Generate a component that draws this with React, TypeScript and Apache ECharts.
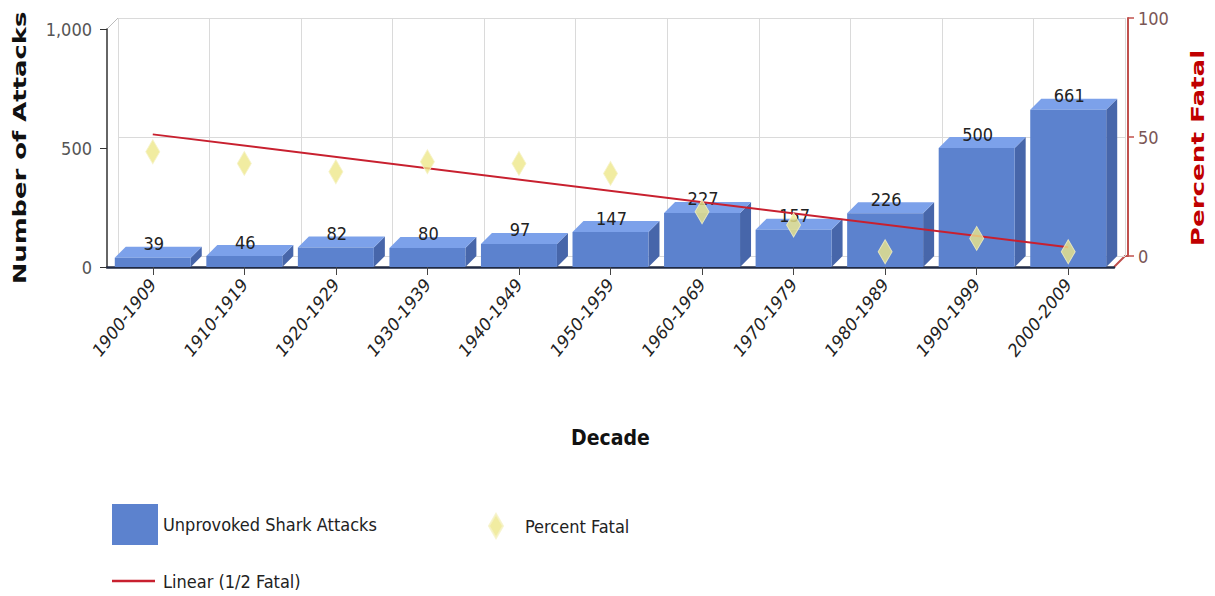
import React, { useEffect, useRef } from "react";
import * as echarts from "echarts";

// ---- data ----
const decades = [
  "1900-1909", "1910-1919", "1920-1929", "1930-1939", "1940-1949", "1950-1959",
  "1960-1969", "1970-1979", "1980-1989", "1990-1999", "2000-2009",
];
const attacks = [39, 46, 82, 80, 97, 147, 227, 157, 226, 500, 661];
const percentFatal = [43.8, 38.9, 35.4, 39.6, 38.9, 34.7, 18.6, 13.0, 1.8, 7.4, 1.8];
const trendDecades = ["1900-1909", "2000-2009"];
const trendValues = [51.1, 3.7];
const attacksAxis = { min: 0, max: 1000, interval: 500 };
const fatalAxis = { min: 0, max: 100, interval: 50 };

// ---- layout / style ----
const W = 1215;
const H = 596;
const FL = 107; // front plane left
const FT = 29; // front plane top
const PW = 1007; // plane width
const PH = 238; // plane height
const D = 11; // 3D depth
const NARROW = "'Liberation Sans Narrow', 'DejaVu Sans Condensed', 'Arial Narrow', sans-serif";
const WIDE = "'DejaVu Sans', Verdana, sans-serif";
const BAR_FRONT = "#5C82CE";
const BAR_TOP = "#7CA1EA";
const BAR_SIDE = "#4766AA";
const RED_AXIS = "#C0504D";
const TREND = "#C8202F";
const DIAMOND = "#EDE78A";

export default function App() {
  const ref = useRef<HTMLDivElement>(null);
  useEffect(() => {
    if (!ref.current) return;
    const chart = echarts.init(ref.current, undefined, { renderer: "svg" });
    const FR = FL + PW;
    const FB = FT + PH;
    const option: any = {
      animation: false,
      backgroundColor: "#ffffff",
      grid: [
        { left: FL, top: FT, width: PW, height: PH },
        { left: FL + D, top: FT - D, width: PW, height: PH },
        { left: FL, top: FT - D, width: PW, height: PH },
      ],
      xAxis: [
        {
          gridIndex: 0,
          type: "category",
          data: decades,
          axisLine: { show: true, lineStyle: { color: "#1F2A44", width: 2.5 } },
          axisTick: { show: true, alignWithLabel: true, length: 8, lineStyle: { color: "#444" } },
          axisLabel: {
            interval: 0,
            rotate: 52,
            margin: 14,
            fontFamily: WIDE,
            fontStyle: "italic",
            fontSize: 17,
            color: "#222",
          },
          splitLine: { show: false },
          name: "Decade",
          nameLocation: "middle",
          nameGap: 160,
          nameTextStyle: { fontFamily: NARROW, fontWeight: "bold", fontSize: 21, color: "#111" },
        },
        {
          gridIndex: 1,
          type: "category",
          data: decades,
          axisLine: { show: false },
          axisTick: { show: false },
          axisLabel: { show: false },
          splitLine: { show: true, lineStyle: { color: "#DADADA", width: 1 } },
        },
        { gridIndex: 2, type: "category", data: decades, show: false },
      ],
      yAxis: [
        {
          gridIndex: 0,
          type: "value",
          ...attacksAxis,
          axisLine: { show: true, lineStyle: { color: "#333", width: 1.5 } },
          axisTick: { show: true, length: 7, lineStyle: { color: "#333" } },
          axisLabel: {
            margin: 15,
            fontFamily: NARROW,
            fontSize: 18,
            color: "#555",
            formatter: (v: number) => v.toLocaleString("en-US"),
          },
          splitLine: { show: false },
        },
        {
          gridIndex: 1,
          type: "value",
          position: "right",
          offset: 3,
          ...fatalAxis,
          axisLine: { show: true, lineStyle: { color: RED_AXIS, width: 2 } },
          axisTick: { show: true, length: 6, lineStyle: { color: RED_AXIS, width: 1.5 } },
          axisLabel: { margin: 10, fontFamily: NARROW, fontSize: 18, color: "#7A5656" },
          splitLine: { show: true, lineStyle: { color: "#DADADA", width: 1 } },
        },
        { gridIndex: 2, type: "value", ...fatalAxis, show: false },
      ],
      legend: [
        {
          data: [{ name: "Unprovoked Shark Attacks", icon: "rect" }],
          left: FL,
          top: 499,
          itemWidth: 46,
          itemHeight: 41,
          textStyle: { fontFamily: NARROW, fontSize: 18, color: "#222" },
          selectedMode: false,
        },
        {
          data: [{ name: "Percent Fatal", icon: "diamond" }],
          left: 483,
          top: 508,
          itemWidth: 14,
          itemHeight: 24,
          textStyle: { fontFamily: NARROW, fontSize: 18, color: "#222", padding: [0, 0, 0, 17] },
          selectedMode: false,
        },
        {
          data: [{ name: "Linear (1/2 Fatal)", icon: "rect" }],
          left: FL,
          top: 567,
          itemWidth: 43,
          itemHeight: 2.5,
          textStyle: { fontFamily: NARROW, fontSize: 18, color: "#222", padding: [0, 0, 0, 3] },
          selectedMode: false,
        },
      ],
      graphic: [
        {
          type: "line",
          shape: { x1: FL, y1: FT, x2: FL + D, y2: FT - D },
          style: { stroke: "#BBBBBB", lineWidth: 1 },
        },
        {
          type: "polyline",
          shape: { points: [[FR, FB], [FR + D, FB - D], [FR + D + 3, FB - D]] },
          style: { stroke: RED_AXIS, lineWidth: 2, fill: null },
        },
        {
          type: "text",
          x: 20,
          y: FT + PH / 2,
          rotation: Math.PI / 2,
          scaleX: 1.52,
          style: {
            text: "Number of Attacks",
            fontFamily: WIDE,
            fontWeight: "bold",
            fontSize: 17,
            fill: "#111",
            align: "center",
            verticalAlign: "middle",
          },
        },
        {
          type: "text",
          x: 1198,
          y: FT + PH / 2,
          rotation: Math.PI / 2,
          scaleX: 1.54,
          style: {
            text: "Percent Fatal",
            fontFamily: WIDE,
            fontWeight: "bold",
            fontSize: 17,
            fill: "#C00000",
            align: "center",
            verticalAlign: "middle",
          },
        },
      ],
      series: [
        {
          name: "Unprovoked Shark Attacks",
          type: "custom",
          xAxisIndex: 0,
          yAxisIndex: 0,
          z: 2,
          itemStyle: { color: BAR_FRONT },
          encode: { x: 0, y: 1 },
          data: attacks.map((v, i) => [i, v]),
          renderItem: (params: any, api: any) => {
            const idx = api.value(0);
            const v = api.value(1);
            const base = api.coord([idx, 0]);
            const top = api.coord([idx, v]);
            const band = api.size([1, 0])[0];
            const bw = band * 0.83;
            const x0 = base[0] - bw / 2;
            const x1 = base[0] + bw / 2;
            const yb = base[1];
            const yt = top[1];
            return {
              type: "group",
              children: [
                {
                  type: "polygon",
                  shape: { points: [[x1, yt], [x1 + D, yt - D], [x1 + D, yb - D], [x1, yb]] },
                  style: { fill: BAR_SIDE },
                },
                {
                  type: "polygon",
                  shape: { points: [[x0, yt], [x1, yt], [x1 + D, yt - D], [x0 + D, yt - D]] },
                  style: { fill: BAR_TOP },
                },
                {
                  type: "rect",
                  shape: { x: x0, y: yt, width: bw, height: yb - yt },
                  style: { fill: BAR_FRONT },
                },
                {
                  type: "text",
                  x: base[0] + 1,
                  y: yt - D + 6,
                  style: {
                    text: String(v),
                    align: "center",
                    verticalAlign: "bottom",
                    fontFamily: NARROW,
                    fontSize: 18,
                    fill: "#222",
                  },
                },
              ],
            };
          },
        },
        {
          name: "Linear (1/2 Fatal)",
          type: "line",
          xAxisIndex: 2,
          yAxisIndex: 2,
          z: 3,
          symbol: "none",
          color: TREND,
          itemStyle: { color: TREND },
          lineStyle: { color: TREND, width: 2 },
          data: trendDecades.map((d, i) => [d, trendValues[i]]),
        },
        {
          name: "Percent Fatal",
          type: "scatter",
          xAxisIndex: 2,
          yAxisIndex: 2,
          z: 4,
          symbol: "diamond",
          symbolSize: [14, 24],
          itemStyle: { color: DIAMOND, borderColor: "#F5F1C4", borderWidth: 1 },
          data: percentFatal,
        },
      ],
    };
    chart.setOption(option);
    return () => chart.dispose();
  }, []);
  return (
    <div
      ref={ref}
      style={{ position: "fixed", left: 0, top: 0, width: W, height: H, background: "#fff" }}
    />
  );
}
